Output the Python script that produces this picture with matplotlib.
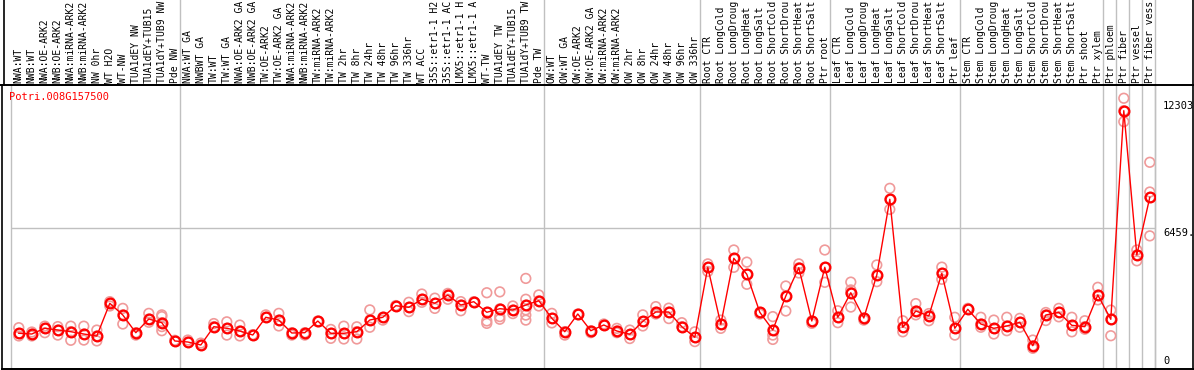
import matplotlib
matplotlib.use('agg')
import matplotlib.pyplot as plt
from matplotlib.lines import Line2D

# ---- data ----
gene = "Potri.008G157500"
labels = [
    "NWA:WT", "NWB:WT", "NWA:OE-ARK2", "NWB:OE-ARK2", "NWA:miRNA-ARK2", "NWB:miRNA-ARK2",
    "NW 0hr", "WT H2O", "WT-NW", "TUA1dEY NW", "TUA1dEY+TUB15", "TUA1dY+TUB9 NW", "Pde NW",
    "NWA:WT GA", "NWBWT GA", "TW:WT", "TW:WT GA", "NWA:OE-ARK2 GA", "NWB:OE-ARK2 GA",
    "TW:OE-ARK2", "TW:OE-ARK2 GA", "NWA:miRNA-ARK2", "NWB:miRNA-ARK2", "TW:miRNA-ARK2",
    "TW:miRNA-ARK2", "TW 2hr", "TW 8hr", "TW 24hr", "TW 48hr", "TW 96hr", "TW 336hr", "WT ACC",
    "35S::etr1-1 H2", "35S::etr1-1 AC", "LMX5::etr1-1 H", "LMX5::etr1-1 A", "WT-TW",
    "TUA1dEY TW", "TUA1dEY+TUB15", "TUA1dY+TUB9 TW", "Pde TW",
    "OW:WT", "OW:WT GA", "OW:OE-ARK2", "OW:OE-ARK2 GA", "OW:miRNA-ARK2", "OW:miRNA-ARK2",
    "OW 2hr", "OW 8hr", "OW 24hr", "OW 48hr", "OW 96hr", "OW 336hr",
    "Root CTR", "Root LongCold", "Root LongDroug", "Root LongHeat", "Root LongSalt",
    "Root ShortCold", "Root ShortDrou", "Root ShortHeat", "Root ShortSalt", "Ptr root",
    "Leaf CTR", "Leaf LongCold", "Leaf LongDroug", "Leaf LongHeat", "Leaf LongSalt",
    "Leaf ShortCold", "Leaf ShortDrou", "Leaf ShortHeat", "Leaf ShortSalt", "Ptr leaf",
    "Stem CTR", "Stem LongCold", "Stem LongDroug", "Stem LongHeat", "Stem LongSalt",
    "Stem ShortCold", "Stem ShortDrou", "Stem ShortHeat", "Stem ShortSalt", "Ptr shoot",
    "Ptr xylem", "Ptr phloem", "Ptr fiber", "Ptr vessel", "Ptr fiber vess",
]
means = [
    1622, 1589, 1852, 1774, 1695, 1589, 1497, 3004, 2465, 1649, 2280, 2110, 1267,
    1221, 1083, 1926, 1852, 1728, 1543, 2359, 2234, 1635, 1649, 2188, 1622, 1622,
    1695, 2234, 2359, 2893, 2819, 3188, 3004, 3386, 2925, 3077, 2589, 2755, 2695,
    2925, 3124,
    2313, 1695, 2511, 1741, 2004, 1728, 1576, 2174, 2603, 2603, 1926, 1437,
    4662, 2036, 5077, 4340, 2589, 1774, 3340, 4644, 2188, 4662,
    2359, 3492, 2327, 4307, 7795, 1898, 2649, 2419, 4386, 1852,
    2727, 2050, 1852, 1958, 2128, 1050, 2465, 2589, 1990, 1926, 3386,
    2267, 11877, 5229, 7887,
]
replicates = [
    [1880, 1620, 1500], [1590, 1500, 1680], [1950, 1850, 1650], [1930, 1770, 1540],
    [1950, 1700, 1300], [1950, 1590, 1310], [1770, 1500, 1270], [3080, 3000, 2880],
    [2770, 2470, 2050], [1650, 1540], [2540, 2280, 2130], [2470, 2390, 2110, 1930, 1740],
    [1270, 1300], [1220, 1310], [1080, 1170], [2070, 1930], [2150, 1850, 1540],
    [2000, 1730, 1500], [1540, 1560], [2470, 2360], [2540, 2230, 1960], [1650, 1540],
    [1650, 1540], [2190, 2150], [1800, 1620, 1390], [1950, 1620, 1360], [1920, 1700, 1360],
    [2700, 2230, 1900], [2360, 2230], [2900, 2870], [3050, 2820, 2620], [3430, 3190, 3050],
    [3240, 3000, 2770], [3460, 3390, 3190], [3080, 2920, 2660], [3080, 3040],
    [3490, 2590, 2190, 2080], [3530, 2750, 2390, 2270], [2880, 2690, 2530],
    [4150, 3190, 2920, 2700, 2460, 2230], [3390, 3120, 2880],
    [2540, 2310, 2100], [1700, 1540], [2510, 2480], [1740, 1650], [2000, 2050],
    [1850, 1730, 1650], [1770, 1570, 1380], [2470, 2170, 1960], [2850, 2600, 2510],
    [2780, 2600, 2300], [2110, 1930], [1690, 1440, 1240],
    [4820, 4660, 4470], [2230, 2040, 1850], [5460, 5080, 4660], [4900, 4340, 3880],
    [2590, 2510], [2390, 1770, 1540, 1340], [3800, 3340, 2650], [4820, 4640, 4400],
    [2190, 2080], [5460, 4660, 3970],
    [2660, 2360, 2110], [3980, 3620, 3500, 2830], [2330, 2230], [4770, 4310, 4000],
    [8300, 7790, 7330], [2200, 1900, 1690], [2990, 2650, 2470], [2530, 2420, 2200],
    [4670, 4390, 4110], [2360, 1850, 1540],
    [2770, 2730], [2360, 2050, 1900], [2230, 1850, 1590], [2360, 1960, 1740],
    [2310, 2130, 1900], [1310, 1050, 930], [2580, 2470, 2210], [2770, 2590, 2380],
    [2360, 1990, 1690], [2200, 1930, 1810], [3740, 3380, 3160],
    [2690, 2260, 1510], [12450, 11880, 11370], [5460, 5230, 4960], [9500, 8130, 7880, 6110],
]
group_breaks = [13, 41, 53, 63, 73, 84, 85, 86, 87]
max_value = 12303
mid_value = 6459.5
y_top = 13060

W, H = 1194, 370
fig = plt.figure(figsize=(W / 100, H / 100), dpi=100)
mono = 'DejaVu Sans Mono'
fs = 7.0

# plot region in pixels
left, right, top, bottom = 11, 1155, 85, 368.5
ax = fig.add_axes([left / W, (H - bottom) / H, (right - left) / W, (bottom - top) / H])
n = len(labels)
ax.set_xlim(0, n)
ax.set_ylim(0, y_top)
ax.set_xticks([])
ax.set_yticks([])
for side in ['left', 'right']:
    ax.spines[side].set_color('#c0c0c0')
    ax.spines[side].set_linewidth(1)
for side in ['top', 'bottom']:
    ax.spines[side].set_color('black')
    ax.spines[side].set_linewidth(1.4)

ext = bottom / (bottom - top)
for b in group_breaks:
    ax.axvline(b, ymin=0, ymax=ext, color='#c0c0c0', lw=1, clip_on=False, zorder=0)
ax.axvline(n, ymin=0, ymax=ext, color='#c0c0c0', lw=1, clip_on=False, zorder=0)
ax.axhline(mid_value, color='#c0c0c0', lw=1, zorder=0)

xs = [i + 0.6 for i in range(n)]
rx, ry = [], []
for i, reps in enumerate(replicates):
    for r in reps:
        rx.append(xs[i])
        ry.append(r)
ax.scatter(rx, ry, s=48, facecolors='none', edgecolors='#f09a9a', linewidths=1.2, zorder=2)
ax.plot(xs, means, color='red', lw=1, zorder=3)
ax.plot(xs, means, 'o', mfc='none', mec='red', ms=7, mew=1.6, zorder=4)

# column labels above the plot
for i, lab in enumerate(labels):
    ax.text(xs[i], 1 + 2 / (bottom - top), lab, transform=ax.get_xaxis_transform(),
            rotation=90, ha='center', va='bottom', family=mono, fontsize=fs)

ax.text((9 - left) / (right - left), 1 - 12 / (bottom - top), gene,
        transform=ax.transAxes, color='red', family=mono, fontsize=7.5,
        ha='left', va='center')

# right scale labels
tr = ax.get_yaxis_transform()
xr = 1 + 8 / (right - left)
ax.text(xr, max_value, str(max_value), transform=tr, va='top', ha='left',
        family=mono, fontsize=7.5)
ax.text(xr, mid_value, str(mid_value)[:5], transform=tr, va='top', ha='left',
        family=mono, fontsize=7.5)
ax.annotate("0", (xr, 0), xycoords=tr, xytext=(0, 3), textcoords='offset pixels',
            va='bottom', ha='left', family=mono, fontsize=7.5)

# outer frame
fig.add_artist(Line2D([1.5 / W, 1.5 / W], [(H - 369) / H, (H - 85) / H], color='black', lw=1.2))
fig.add_artist(Line2D([0, 1], [(H - 85) / H, (H - 85) / H], color='black', lw=1.4))
fig.add_artist(Line2D([1.5 / W, 1193 / W], [(H - 368.5) / H, (H - 368.5) / H], color='black', lw=1.4))
fig.add_artist(Line2D([1193 / W, 1193 / W], [(H - 369) / H, 1], color='black', lw=1.2))
fig.add_artist(Line2D([3.5 / W, 3.5 / W], [(H - 85) / H, 1], color='black', lw=1.2))

fig.savefig('out.png', dpi=100)
